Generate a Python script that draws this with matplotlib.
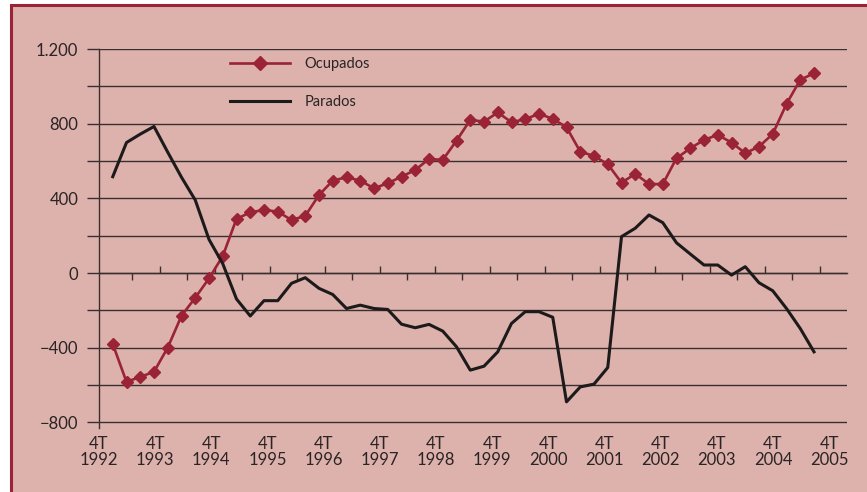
import numpy as np
import matplotlib
matplotlib.use("Agg")
import matplotlib.pyplot as plt
from matplotlib.patches import Rectangle
from matplotlib.lines import Line2D
from matplotlib.ticker import MultipleLocator, FuncFormatter

# quarterly change, 1T 1993 .. 4T 2005 (thousands)
ocupados = [-380, -583, -556, -529, -399, -229, -132, -29, 91, 290,
            325, 338, 329, 284, 306, 418, 495, 513, 495, 454,
            481, 516, 552, 611, 606, 709, 820, 811, 860, 808,
            824, 853, 826, 781, 650, 627, 583, 484, 531, 477,
            476, 615, 668, 713, 740, 699, 642, 677, 745, 906,
            1035, 1070]
parados = [516, 699, 744, 785, 647, 513, 391, 180, 50, -139,
           -230, -148, -148, -55, -25, -82, -115, -190, -172, -190,
           -195, -274, -293, -275, -311, -395, -520, -499, -422, -270,
           -207, -207, -237, -690, -610, -595, -506, 195, 240, 311,
           270, 162, 102, 43, 43, -11, 34, -52, -95, -190,
           -297, -422]
years = list(range(1992, 2006))
year_labels = [f"4T\n{y}" for y in years]

RED = "#9a2336"
PINK = "#ddb1ac"
GRID = "#3a2f2f"

plt.rcParams['font.family'] = ['Lato', 'DejaVu Sans']

fig = plt.figure(figsize=(8.67, 4.92), dpi=100)
fig.patch.set_facecolor("white")
frame = Rectangle((10.5 / 867, -0.05), 1.1, 1 - 5 / 492 + 0.05,
                  transform=fig.transFigure, facecolor=PINK,
                  edgecolor=RED, linewidth=2.2, zorder=-5)
fig.add_artist(frame)

ax = fig.add_axes([99 / 867, 1 - 428 / 492, 748 / 867, (428 - 49) / 492])
ax.set_zorder(2)
ax.set_facecolor("none")

x = np.arange(len(ocupados)) + 0.6
ax.plot(x, ocupados, color=RED, lw=1.9, marker="D", ms=6.5, zorder=3)
ax.plot(x, parados, color="#1c1a1a", lw=2.2, zorder=4)

ax.set_xlim(0, 54)
ax.set_ylim(-830, 1200)

ax.yaxis.set_major_locator(MultipleLocator(400))
ax.yaxis.set_minor_locator(MultipleLocator(200))
ax.yaxis.set_major_formatter(FuncFormatter(
    lambda v, p: f"{v:,.0f}".replace(",", ".").replace("-", "\u2212")))
ax.grid(axis="y", which="both", color=GRID, lw=1.0, zorder=1)
ax.tick_params(axis="y", which="both", length=9, width=1.0, color=GRID,
               labelsize=12, pad=6, labelcolor="#2a2424")

# year labels along the bottom
ax.set_xticks(np.linspace(-0.4, 52.7, len(years)))
ax.set_xticklabels(year_labels, fontsize=12, color="#2a2424", linespacing=0.95)
ax.tick_params(axis="x", length=0, pad=6)

for s in ["top", "right", "bottom"]:
    ax.spines[s].set_visible(False)
ax.spines["left"].set_color(GRID)
ax.spines["left"].set_linewidth(1.0)

# zero line with year / half-year ticks
sec = ax.secondary_xaxis(0, transform=ax.transData)
sec.set_xticks(np.arange(4, 53, 4))
sec.set_xticks(np.arange(2, 51, 4), minor=True)
sec.tick_params(which="major", direction="in", length=5, width=1.0, color=GRID,
                labelbottom=False, labeltop=False)
sec.tick_params(which="minor", direction="out", length=5, width=1.0, color=GRID,
                labelbottom=False, labeltop=False)
for s, sp in sec.spines.items():
    sp.set_color(GRID)
    sp.set_linewidth(1.0)

handles = [Line2D([], [], color=RED, lw=1.9, marker="D", ms=7),
           Line2D([], [], color="#1c1a1a", lw=2.2)]
leg = fig.legend(handles, ["Ocupados", "Parados"], loc="upper left",
                 bbox_to_anchor=(230 / 867, 1 - 57 / 492), frameon=False,
                 borderpad=0, borderaxespad=0, handlelength=4.1,
                 handletextpad=1.0, labelspacing=1.65, fontsize=10.5,
                 labelcolor="#2a2424")
leg.set_zorder(3)

fig.savefig("out.png", dpi=100)
